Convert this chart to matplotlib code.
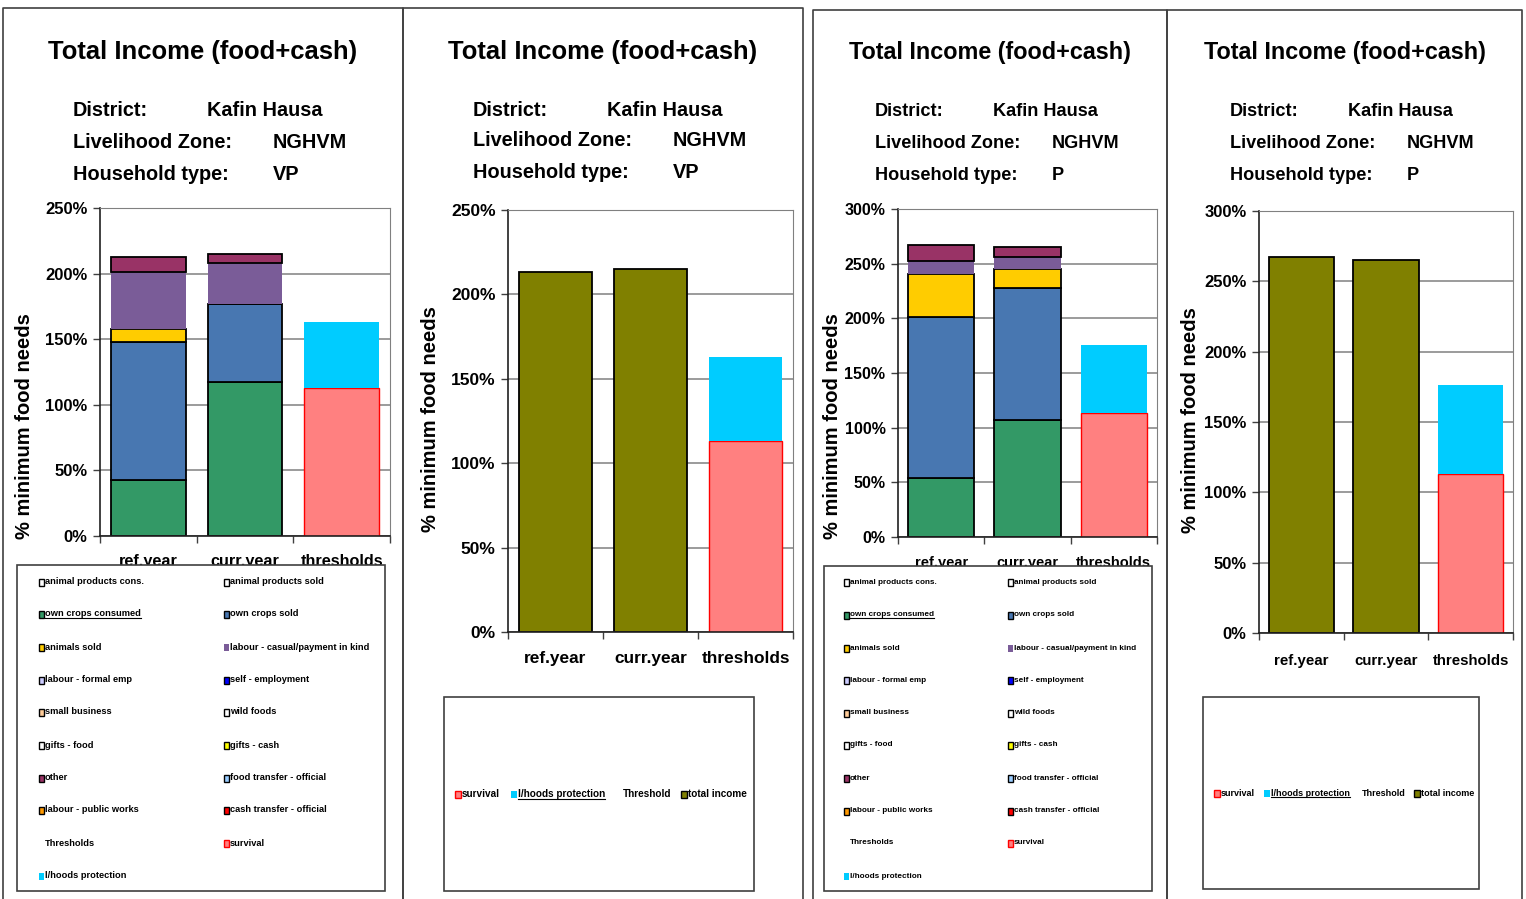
import numpy as np
import matplotlib
matplotlib.use("Agg")
import matplotlib.pyplot as plt
from matplotlib import font_manager as fm
from matplotlib.lines import Line2D
from matplotlib.patches import Rectangle

# ---------------------------------------------------------------- data
categories = ["ref.year", "curr.year", "thresholds"]

# income sources, % of minimum food needs (ref.year, curr.year)
vp_own_crops_consumed = [43, 117]
vp_own_crops_sold = [105, 60]
vp_animals_sold = [10, 0]
vp_labour_casual = [43, 31]
vp_other = [12, 7]

p_own_crops_consumed = [54, 107]
p_own_crops_sold = [147, 121]
p_animals_sold = [40, 17]
p_labour_casual = [11.5, 11]
p_other = [14.5, 9]

# thresholds
vp_survival = 113
vp_lhoods_protection = 50
p_survival = 113
p_lhoods_protection = 63

district = "Kafin Hausa"
livelihood_zone = "NGHVM"
household_types = ["VP", "VP", "P", "P"]

source_names = ["own crops consumed", "own crops sold", "animals sold",
                "labour - casual/payment in kind", "other"]
source_colors = ["#339966", "#4877B1", "#FFCC00", "#7A5C98", "#993366"]
source_edges = ["black", "black", "black", "none", "black"]

legend_labels = [
    "animal products cons.", "animal products sold",
    "own crops consumed", "own crops sold",
    "animals sold", "labour - casual/payment in kind",
    "labour - formal emp", "self - employment",
    "small business", "wild foods",
    "gifts - food", "gifts - cash",
    "other", "food transfer - official",
    "labour - public works", "cash transfer - official",
    "Thresholds", "survival",
    "l/hoods protection",
]
legend_fills = [
    "#FFFFFF", "#FFFFFF",
    "#339966", "#4877B1",
    "#FFCC00", "#7A5C98",
    "#CCCCFF", "#0000FF",
    "#FFCC99", "#FFFFFF",
    "#FFFFFF", "#FFFF00",
    "#993366", "#99CCFF",
    "#FF9900", "#FF0000",
    None, "#FF8080",
    "#00CCFF",
]
legend_edges = [
    "black", "black",
    "black", "black",
    "black", "none",
    "black", "black",
    "black", "black",
    "black", "black",
    "black", "black",
    "black", "black",
    None, "#FF0000",
    "none",
]

# ---------------------------------------------------------------- fonts
def has_font(name):
    try:
        fm.findfont(fm.FontProperties(family=name), fallback_to_default=False)
        return True
    except Exception:
        return False

if has_font("Liberation Sans Narrow"):
    NARROW, NS = "Liberation Sans Narrow", 1.0
else:
    NARROW, NS = "Liberation Sans", 0.84
WIDE = "Liberation Sans" if has_font("Liberation Sans") else "DejaVu Sans"

# ---------------------------------------------------------------- figure
W, H = 1526, 899
fig = plt.figure(figsize=(W / 100, H / 100), dpi=100)
fig.patch.set_facecolor("white")


def fx(x):
    return x / W


def fy(y):
    return 1 - y / H


def frame(x0, x1, ytop):
    fig.add_artist(Line2D([fx(x0), fx(x0), fx(x1), fx(x1)],
                          [0, fy(ytop), fy(ytop), 0],
                          transform=fig.transFigure, color="#404040", lw=1.2))


def header(cx, x_lab, x_val, y_title, rows_y, title_fs, info_fs, htype):
    fig.text(fx(cx), fy(y_title), "Total Income (food+cash)", ha="center",
             va="center", fontsize=title_fs * NS, fontweight="bold", family=NARROW)
    labels = ["District:", "Livelihood Zone:", "Household type:"]
    values = [district, livelihood_zone, htype]
    for i, (lab, val, y) in enumerate(zip(labels, values, rows_y)):
        fig.text(fx(x_lab), fy(y), lab, ha="left", va="center",
                 fontsize=info_fs * NS, fontweight="bold", family=NARROW)
        xv = x_val[0] if i == 0 else x_val[1]
        fig.text(fx(xv), fy(y), val, ha="left", va="center",
                 fontsize=info_fs * NS, fontweight="bold", family=NARROW)


def make_axes(l, r, t, b, ymax, tick_fs, xtick_fs, ylab_xy, xpad):
    ax = fig.add_axes([fx(l), fy(b), (r - l) / W, (b - t) / H])
    ax.set_xlim(-0.5, 2.5)
    ax.set_ylim(0, ymax)
    ax.set_yticks(np.arange(0, ymax + 1, 50))
    ax.yaxis.set_major_formatter(lambda v, p: f"{v:.0f}%")
    ax.grid(axis="y", color="#808080", lw=1.1)
    ax.set_axisbelow(True)
    ax.set_xticks(range(3))
    ax.set_xticklabels(categories)
    ax.set_xticks([-0.5, 0.5, 1.5, 2.5], minor=True)
    ax.tick_params(axis="x", which="major", length=0, pad=xpad)
    ax.tick_params(axis="x", which="minor", length=5, width=1, color="#404040")
    ax.tick_params(axis="y", length=5, width=1, color="#404040", pad=4)
    for lab in ax.get_yticklabels():
        lab.set_fontsize(tick_fs)
        lab.set_fontweight("bold")
        lab.set_family(WIDE)
    for lab in ax.get_xticklabels():
        lab.set_fontsize(xtick_fs)
        lab.set_fontweight("bold")
        lab.set_family(WIDE)
    for side in ("top", "right"):
        ax.spines[side].set_color("#808080")
    for side in ("left", "bottom"):
        ax.spines[side].set_color("#202020")
        ax.spines[side].set_linewidth(1.2)
    fig.text(fx(ylab_xy[0]), fy(ylab_xy[1]), "% minimum food needs", rotation=90,
             ha="center", va="center", fontsize=14.5, fontweight="bold", family=WIDE)
    return ax


BAR_W = 0.77


def thresholds(ax, survival, lhoods):
    ax.bar(2, survival, BAR_W, color="#FF8080", edgecolor="#FF0000", lw=1.0)
    ax.bar(2, lhoods, BAR_W, bottom=survival, color="#00CCFF", lw=0)


def stacked(ax, series):
    bottom = np.zeros(2)
    for vals, col, ec in zip(series, source_colors, source_edges):
        vals = np.asarray(vals, dtype=float)
        ax.bar([0, 1], vals, BAR_W, bottom=bottom, color=col,
               edgecolor=ec, lw=1.3 if ec != "none" else 0)
        bottom += vals
    return bottom


def totals(ax, series):
    tot = np.sum(np.asarray(series, dtype=float), axis=0)
    ax.bar([0, 1], tot, BAR_W, color="#808000", edgecolor="black", lw=1.3)


underlined = []


def marker(x, y, fill, edge, w=5, h=7):
    fig.add_artist(Rectangle((fx(x), fy(y + h / 2)), w / W, h / H,
                             transform=fig.transFigure, facecolor=fill,
                             edgecolor=edge if edge != "none" else fill,
                             lw=1.0 if edge != "none" else 0, zorder=3))


def big_legend(box, cols_x, rows_y, fs, underline_label):
    x0, y0, x1, y1 = box
    fig.add_artist(Rectangle((fx(x0), fy(y1)), (x1 - x0) / W, (y1 - y0) / H,
                             transform=fig.transFigure, facecolor="white",
                             edgecolor="#404040", lw=1.2, zorder=2))
    for i, (lab, fill, edge) in enumerate(zip(legend_labels, legend_fills, legend_edges)):
        r, c = divmod(i, 2)
        mx = cols_x[c]
        y = rows_y[r]
        if fill is not None:
            marker(mx, y, fill, edge)
        t = fig.text(fx(mx + 6), fy(y), lab, ha="left", va="center",
                     fontsize=fs * NS, fontweight="bold", family=NARROW, zorder=4)
        if lab == underline_label:
            underlined.append(t)


def small_legend(box, row_y, xs, fs):
    x0, y0, x1, y1 = box
    fig.add_artist(Rectangle((fx(x0), fy(y1)), (x1 - x0) / W, (y1 - y0) / H,
                             transform=fig.transFigure, facecolor="white",
                             edgecolor="#404040", lw=1.2, zorder=2))
    items = [("survival", "#FF8080", "#FF0000"),
             ("l/hoods protection", "#00CCFF", "none"),
             ("Threshold", None, None),
             ("total income", "#808000", "black")]
    for (lab, fill, edge), mx in zip(items, xs):
        if fill is not None:
            marker(mx, row_y, fill, edge, w=6, h=7)
            tx = mx + 7
        else:
            tx = mx
        t = fig.text(fx(tx), fy(row_y), lab, ha="left", va="center",
                     fontsize=fs * NS, fontweight="bold", family=NARROW, zorder=4)
        if lab == "l/hoods protection":
            underlined.append(t)


vp_series = [vp_own_crops_consumed, vp_own_crops_sold, vp_animals_sold,
             vp_labour_casual, vp_other]
p_series = [p_own_crops_consumed, p_own_crops_sold, p_animals_sold,
            p_labour_casual, p_other]

# ---------------------------------------------------------------- panel 1
frame(3, 403, 8)
header(203, 73, (207, 273), 52, (110, 142, 174), 22, 17, household_types[0])
ax1 = make_axes(100, 390, 208, 536, 250, 12, 11.7, (25, 426), 13)
stacked(ax1, vp_series)
thresholds(ax1, vp_survival, vp_lhoods_protection)
big_legend((17, 565, 385, 891), (39, 224),
           [582, 614, 647, 680, 712, 745, 778, 810, 843, 876], 7.9,
           "own crops consumed")

# ---------------------------------------------------------------- panel 2
frame(403, 803, 8)
header(603, 473, (607, 673), 52, (110, 141, 173), 22, 17, household_types[1])
ax2 = make_axes(508, 793, 210, 632, 250, 12.5, 12.4, (430, 419), 14)
totals(ax2, vp_series)
thresholds(ax2, vp_survival, vp_lhoods_protection)
small_legend((444, 697, 754, 891), 794, (455, 511, 623, 681), 8.6)

# ---------------------------------------------------------------- panel 3
frame(813, 1167, 10)
header(990, 875, (993, 1052), 53, (111, 143, 175), 20, 15.5, household_types[2])
ax3 = make_axes(898, 1157, 209, 537, 300, 11.5, 10.5, (832, 426), 14)
stacked(ax3, p_series)
thresholds(ax3, p_survival, p_lhoods_protection)
big_legend((824, 566, 1152, 891), (844, 1008),
           [582, 615, 648, 680, 713, 745, 778, 811, 843, 876], 7.0,
           "own crops consumed")

# ---------------------------------------------------------------- panel 4
frame(1167, 1522, 10)
header(1345, 1230, (1348, 1407), 53, (111, 143, 175), 20, 15.5, household_types[3])
ax4 = make_axes(1259, 1513, 211, 633, 300, 12, 10.8, (1190, 420), 15)
totals(ax4, p_series)
thresholds(ax4, p_survival, p_lhoods_protection)
small_legend((1203, 697, 1479, 889), 793, (1214, 1264, 1362, 1414), 7.7)

# underline selected legend labels
fig.canvas.draw()
renderer = fig.canvas.get_renderer()
for t in underlined:
    bb = t.get_window_extent(renderer)
    fig.add_artist(Line2D([bb.x0 / W, bb.x1 / W], [(bb.y0 + 0.5) / H] * 2,
                          transform=fig.transFigure, color="black", lw=0.8, zorder=5))

fig.savefig("out.png", dpi=100)
